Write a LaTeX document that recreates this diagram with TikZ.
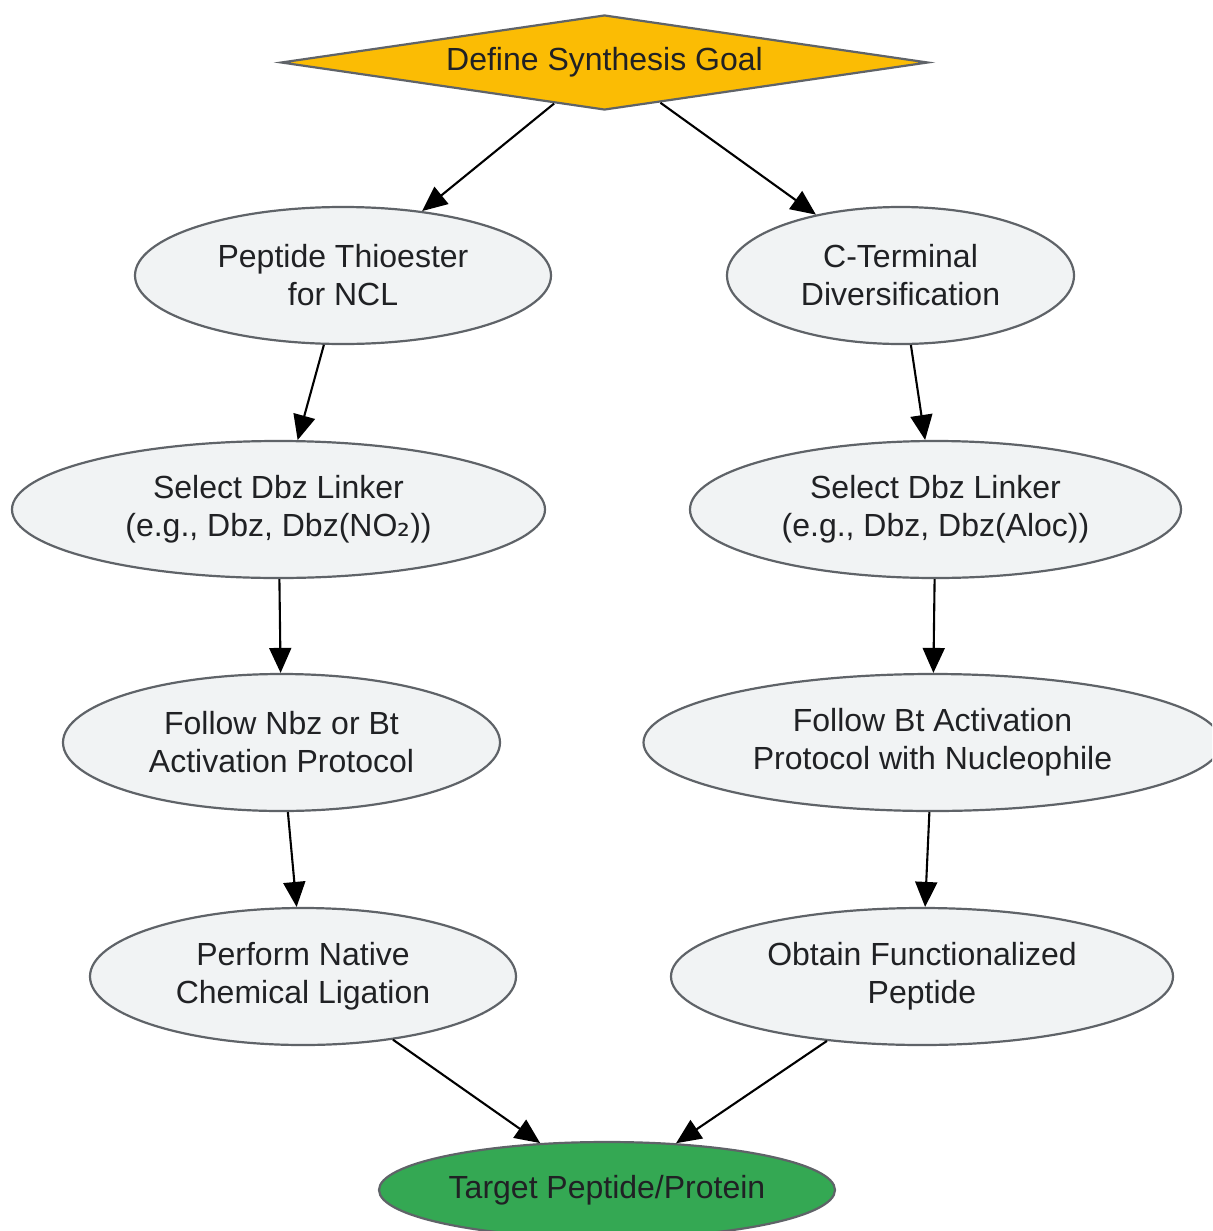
\documentclass[tikz,border=0pt]{standalone}
\usepackage{fontspec}
\setmainfont{Liberation Sans}
\newfontfamily\dejavu{DejaVu Sans}
\usetikzlibrary{shapes.geometric,arrows.meta}
\definecolor{nodefill}{HTML}{F1F3F4}
\definecolor{goalfill}{HTML}{FBBC04}
\definecolor{targetfill}{HTML}{34A853}
\definecolor{bordergray}{HTML}{5F6368}
\definecolor{txt}{HTML}{202124}
\tikzset{
  ell/.style={ellipse, draw=bordergray, line width=1.1pt, fill=nodefill, inner sep=0pt,
    align=center, text=txt, font=\fontsize{16}{19}\selectfont},
  goal/.style={diamond, aspect=6.8, draw=bordergray, line width=1.1pt, fill=goalfill, inner sep=0pt,
    minimum width=323.5pt, minimum height=47.5pt, text=txt, font=\fontsize{16}{19}\selectfont},
  conn/.style={draw=black, line width=1.05pt, -{Triangle[length=12.5pt,width=11pt]}}
}
\begin{document}
\begin{tikzpicture}[x=0.5pt,y=-0.5pt]
\useasboundingbox (0,0) rectangle (1212,1231);
\clip (0,0) rectangle (1212,1231);
\node[goal] (goal) at (604.5,62.5) {\raisebox{-1.5pt}{Define Synthesis Goal}};
\node[ell, minimum width=208pt, minimum height=68.5pt] (pt) at (343,275.5) {Peptide Thioester\\for NCL};
\node[ell, minimum width=173.5pt, minimum height=68.5pt] (ct) at (900.5,275.5) {C-Terminal\\Diversification};
\node[ell, minimum width=266.5pt, minimum height=68.5pt] (sl) at (278.5,509.5) {Select Dbz Linker\\(e.g., Dbz, Dbz(NO{\dejavu ₂}))};
\node[ell, minimum width=245.5pt, minimum height=68.5pt] (sr) at (935.5,509.5) {Select Dbz Linker\\(e.g., Dbz, Dbz(Aloc))};
\node[ell, minimum width=218.5pt, minimum height=68.5pt] (fl) at (281.5,742.5) {Follow Nbz or Bt\\Activation Protocol};
\node[ell, minimum width=289pt, minimum height=68.5pt] (fr) at (932.5,742.5) {Follow Bt Activation\\Protocol with Nucleophile};
\node[ell, minimum width=213pt, minimum height=68.5pt] (pl) at (303,976.5) {Perform Native\\Chemical Ligation};
\node[ell, minimum width=251pt, minimum height=68.5pt] (ob) at (922,976.5) {Obtain Functionalized\\Peptide};
\node[ell, fill=targetfill, minimum width=228pt, minimum height=48pt] (tg) at (607,1190) {Target Peptide/Protein};
\draw[conn] (goal) -- (pt);
\draw[conn] (goal) -- (ct);
\draw[conn] (pt) -- (sl);
\draw[conn] (ct) -- (sr);
\draw[conn] (sl) -- (fl);
\draw[conn] (sr) -- (fr);
\draw[conn] (fl) -- (pl);
\draw[conn] (fr) -- (ob);
\draw[conn] (pl) -- (tg);
\draw[conn] (ob) -- (tg);
\end{tikzpicture}
\end{document}
